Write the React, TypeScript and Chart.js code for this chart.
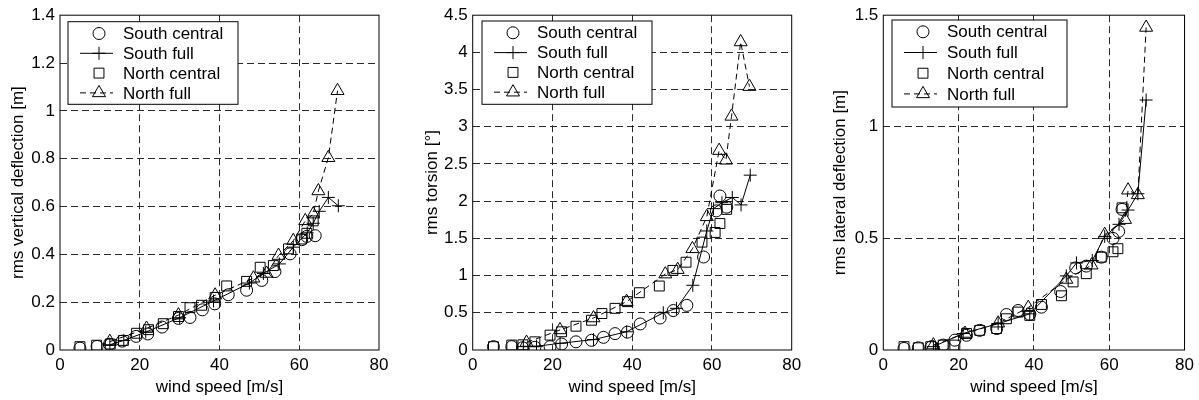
import React, { useEffect, useRef } from 'react';
import { Chart, registerables } from 'chart.js';
Chart.register(...registerables);

const FONT = '"Liberation Sans", Arial, Helvetica, sans-serif';
Chart.defaults.font.family = FONT;
Chart.defaults.font.size = 17;
Chart.defaults.color = '#000';

const seriesNames = ['South central', 'South full', 'North central', 'North full'];
const xTicksTitle = 'wind speed [m/s]';

// Panel 1: rms vertical deflection [m]
const vSouthCentralX = [5.0, 9.3, 12.4, 15.6, 19.1, 22.0, 25.6, 29.7, 32.6, 35.7, 38.8, 42.2, 46.8, 50.6, 53.9, 57.7, 60.6, 61.9, 64.0];
const vSouthCentralY = [0.008, 0.015, 0.024, 0.037, 0.057, 0.067, 0.096, 0.132, 0.136, 0.168, 0.193, 0.231, 0.25, 0.291, 0.328, 0.402, 0.461, 0.475, 0.478];
const vSouthFullX = [12.5, 16.0, 21.5, 30.0, 38.5, 47.5, 51.0, 55.0, 58.5, 62.0, 63.5, 65.0, 67.3, 69.8];
const vSouthFullY = [0.022, 0.04, 0.075, 0.135, 0.205, 0.28, 0.32, 0.36, 0.43, 0.49, 0.53, 0.58, 0.638, 0.603];
const vNorthCentralX = [5.0, 9.2, 12.6, 15.9, 19.2, 22.2, 25.9, 29.7, 32.6, 35.5, 38.9, 41.8, 46.8, 50.2, 53.5, 57.3, 60.6, 61.9, 63.5];
const vNorthCentralY = [0.014, 0.02, 0.025, 0.04, 0.07, 0.085, 0.11, 0.14, 0.177, 0.187, 0.22, 0.268, 0.287, 0.346, 0.353, 0.423, 0.464, 0.488, 0.54];
const vNorthFullX = [12.5, 21.7, 29.7, 38.9, 48.5, 51.8, 54.8, 58.5, 61.5, 63.5, 64.8, 67.3, 69.6];
const vNorthFullY = [0.035, 0.09, 0.146, 0.229, 0.3, 0.32, 0.395, 0.457, 0.54, 0.568, 0.665, 0.804, 1.084];

// Panel 2: rms torsion [°]
const tSouthCentralX = [5.2, 9.8, 12.5, 15.6, 19.4, 22.3, 25.9, 29.8, 32.8, 35.7, 38.8, 42.0, 47.0, 50.3, 53.7, 57.9, 61.1, 62.0, 63.7];
const tSouthCentralY = [0.045, 0.045, 0.03, 0.036, 0.045, 0.08, 0.11, 0.13, 0.17, 0.22, 0.24, 0.35, 0.43, 0.53, 0.6, 1.25, 1.87, 2.07, 1.92];
const tSouthFullX = [12.7, 16.0, 21.9, 30.3, 38.6, 47.8, 51.1, 55.2, 58.7, 60.4, 62.5, 65.1, 67.3, 69.6];
const tSouthFullY = [0.045, 0.05, 0.09, 0.14, 0.245, 0.5, 0.56, 0.87, 1.6, 1.9, 1.98, 2.05, 1.95, 2.35];
const tNorthCentralX = [5.2, 9.8, 12.6, 15.6, 19.4, 22.3, 25.9, 29.8, 32.4, 35.7, 38.8, 41.8, 46.8, 50.2, 53.5, 57.5, 60.8, 62.0, 63.7];
const tNorthCentralY = [0.045, 0.067, 0.07, 0.11, 0.2, 0.245, 0.32, 0.4, 0.49, 0.56, 0.65, 0.77, 0.86, 1.07, 1.18, 1.45, 1.58, 1.7, 1.89];
const tNorthFullX = [13.5, 21.9, 30.3, 38.6, 48.3, 51.4, 55.1, 58.7, 61.8, 63.5, 64.9, 67.2, 69.4];
const tNorthFullY = [0.1, 0.27, 0.43, 0.65, 1.02, 1.08, 1.36, 1.79, 2.68, 2.55, 3.14, 4.14, 3.54];

// Panel 3: rms lateral deflection [m]
const lSouthCentralX = [5.5, 9.3, 12.8, 15.9, 19.0, 22.1, 25.6, 30.1, 32.7, 35.8, 38.9, 42.0, 47.1, 51.1, 53.9, 57.9, 61.0, 62.5, 63.4];
const lSouthCentralY = [0.007, 0.01, 0.015, 0.022, 0.044, 0.066, 0.088, 0.096, 0.159, 0.177, 0.16, 0.192, 0.262, 0.368, 0.376, 0.416, 0.5, 0.531, 0.63];
const lSouthFullX = [13.3, 21.2, 30.5, 38.9, 48.6, 51.3, 55.5, 58.8, 62.6, 65.0, 67.6, 69.8];
const lSouthFullY = [0.015, 0.074, 0.118, 0.162, 0.332, 0.39, 0.401, 0.509, 0.563, 0.627, 0.7, 1.12];
const lNorthCentralX = [5.5, 9.3, 12.6, 15.9, 19.0, 22.1, 25.6, 30.1, 32.7, 35.8, 38.9, 42.0, 47.3, 50.4, 53.9, 57.9, 61.0, 62.3, 63.4];
const lNorthCentralY = [0.015, 0.01, 0.015, 0.022, 0.022, 0.074, 0.088, 0.096, 0.14, 0.17, 0.155, 0.204, 0.243, 0.305, 0.342, 0.416, 0.44, 0.454, 0.637];
const lNorthFullX = [13.3, 21.7, 30.5, 38.5, 48.6, 55.3, 58.8, 64.2, 65.0, 67.6, 69.8];
const lNorthFullY = [0.022, 0.074, 0.12, 0.19, 0.316, 0.38, 0.517, 0.584, 0.716, 0.695, 1.445];

const pts = (xs: number[], ys: number[]) => xs.map((x, i) => ({ x, y: ys[i] }));

type PanelCfg = {
  left: number; width: number; yWidth: number; padRight: number; top: number;
  yMax: number; yStep: number; yTitle: string;
  legendDx: number; legendTop: number; legendW: number; legendH: number; rowGap: number;
  series: { x: number[]; y: number[] }[];
};

const panels: PanelCfg[] = [
  {
    left: 0, width: 400, yWidth: 60, padRight: 21, top: 13.3, yMax: 1.4, yStep: 0.2,
    yTitle: 'rms vertical deflection [m]', legendDx: 8, legendTop: 21.7, legendW: 170, legendH: 82.6, rowGap: 19.8,
    series: [
      { x: vSouthCentralX, y: vSouthCentralY }, { x: vSouthFullX, y: vSouthFullY },
      { x: vNorthCentralX, y: vNorthCentralY }, { x: vNorthFullX, y: vNorthFullY },
    ],
  },
  {
    left: 414, width: 400, yWidth: 58.7, padRight: 22.3, top: 13.3, yMax: 4.5, yStep: 0.5,
    yTitle: 'rms torsion [°]', legendDx: 9.3, legendTop: 21, legendW: 170, legendH: 83.3, rowGap: 19.8,
    series: [
      { x: tSouthCentralX, y: tSouthCentralY }, { x: tSouthFullX, y: tSouthFullY },
      { x: tNorthCentralX, y: tNorthCentralY }, { x: tNorthFullX, y: tNorthFullY },
    ],
  },
  {
    left: 822, width: 377, yWidth: 61.3, padRight: 14, top: 11, yMax: 1.5, yStep: 0.5,
    yTitle: 'rms lateral deflection [m]', legendDx: 8.7, legendTop: 20, legendW: 175, legendH: 87, rowGap: 20.7,
    series: [
      { x: lSouthCentralX, y: lSouthCentralY }, { x: lSouthFullX, y: lSouthFullY },
      { x: lNorthCentralX, y: lNorthCentralY }, { x: lNorthFullX, y: lNorthFullY },
    ],
  },
];

const markerStyles = ['circle', 'cross', 'rect', 'triangle'];
const markerRadii = [6, 6.5, 7, 7.5];
const showLines = [false, true, false, true];
const lineDashes: number[][] = [[], [], [], [6, 4]];

function drawMarker(ctx: CanvasRenderingContext2D, style: string, x: number, y: number, r: number) {
  ctx.beginPath();
  if (style === 'circle') {
    ctx.arc(x, y, r, 0, Math.PI * 2);
  } else if (style === 'cross') {
    ctx.moveTo(x - r, y); ctx.lineTo(x + r, y);
    ctx.moveTo(x, y - r); ctx.lineTo(x, y + r);
  } else if (style === 'rect') {
    const s = r / Math.SQRT2;
    ctx.rect(x - s, y - s, 2 * s, 2 * s);
  } else {
    for (let k = 0; k < 3; k++) {
      const a = (k * 120 * Math.PI) / 180;
      const px = x + Math.sin(a) * r, py = y - Math.cos(a) * r;
      if (k === 0) ctx.moveTo(px, py); else ctx.lineTo(px, py);
    }
    ctx.closePath();
  }
  ctx.stroke();
}

function Panel({ cfg }: { cfg: PanelCfg }) {
  const ref = useRef<HTMLCanvasElement>(null);
  useEffect(() => {
    const gridColor = (max: number) => (c: any) => {
      const v = c.tick ? c.tick.value : NaN;
      return v <= 1e-9 || v >= max - 1e-9 ? 'rgba(0,0,0,0)' : '#2a2a2a';
    };
    const overlay = {
      id: 'frameLegend',
      afterDatasetsDraw(chart: any) {
        const ctx: CanvasRenderingContext2D = chart.ctx;
        const a = chart.chartArea;
        ctx.save();
        ctx.setLineDash([]);
        ctx.strokeStyle = '#000';
        ctx.lineWidth = 1;
        ctx.strokeRect(a.left, a.top, a.right - a.left, a.bottom - a.top);
        const bx = a.left + cfg.legendDx, by = cfg.legendTop;
        ctx.fillStyle = '#fff';
        ctx.fillRect(bx, by, cfg.legendW, cfg.legendH);
        ctx.strokeRect(bx, by, cfg.legendW, cfg.legendH);
        ctx.font = `17px ${FONT}`;
        ctx.textBaseline = 'middle';
        ctx.textAlign = 'left';
        seriesNames.forEach((name, i) => {
          const cy = by + 11.8 + i * cfg.rowGap;
          if (showLines[i]) {
            ctx.setLineDash(lineDashes[i]);
            ctx.beginPath();
            ctx.moveTo(bx + 12, cy);
            ctx.lineTo(bx + 45, cy);
            ctx.stroke();
            ctx.setLineDash([]);
          }
          drawMarker(ctx, markerStyles[i], bx + 31, cy, markerRadii[i]);
          ctx.fillStyle = '#000';
          ctx.fillText(name, bx + 55, cy + 1);
        });
        ctx.restore();
      },
    };
    const chart = new Chart(ref.current as HTMLCanvasElement, {
      type: 'scatter',
      data: {
        datasets: cfg.series.map((s, i) => ({
          label: seriesNames[i],
          data: pts(s.x, s.y),
          showLine: showLines[i],
          borderColor: '#000',
          backgroundColor: 'rgba(0,0,0,0)',
          borderWidth: 1,
          borderDash: lineDashes[i],
          pointStyle: markerStyles[i] as any,
          pointRadius: markerRadii[i],
          pointBorderColor: '#000',
          pointBackgroundColor: 'rgba(0,0,0,0)',
          pointBorderWidth: 1,
          tension: 0,
        })),
      },
      options: {
        responsive: false,
        animation: false,
        devicePixelRatio: 1,
        events: [],
        layout: { padding: { top: cfg.top, right: cfg.padRight, left: 0, bottom: 0 } },
        plugins: { legend: { display: false }, tooltip: { enabled: false } },
        scales: {
          x: {
            type: 'linear', min: 0, max: 80,
            ticks: { stepSize: 20, padding: 5, color: '#000', font: { size: 17 } },
            grid: { color: gridColor(80), drawTicks: false, lineWidth: 1 },
            border: { display: false, dash: [7, 4] },
            title: { display: true, text: xTicksTitle, color: '#000', font: { size: 17 }, padding: { top: 0, bottom: 2 } },
            afterFit: (s: any) => { s.height = 50; },
          },
          y: {
            type: 'linear', min: 0, max: cfg.yMax,
            ticks: {
              stepSize: cfg.yStep, padding: 5, color: '#000', font: { size: 17 },
              callback: (v: any) => String(+Number(v).toFixed(2)),
            },
            grid: { color: gridColor(cfg.yMax), drawTicks: false, lineWidth: 1 },
            border: { display: false, dash: [7, 4] },
            title: { display: true, text: cfg.yTitle, color: '#000', font: { size: 17 }, padding: { top: 8, bottom: 0 } },
            afterFit: (s: any) => { s.width = cfg.yWidth; },
          },
        },
      },
      plugins: [overlay],
    } as any);
    return () => chart.destroy();
  }, []);
  return (
    <canvas
      ref={ref}
      width={cfg.width}
      height={400}
      style={{ position: 'absolute', left: cfg.left, top: 0, width: cfg.width, height: 400, display: 'block' }}
    />
  );
}

export default function App() {
  return (
    <div style={{ position: 'absolute', left: 0, top: 0, width: 1199, height: 400, background: '#fff', overflow: 'hidden' }}>
      {panels.map((p, i) => (
        <Panel key={i} cfg={p} />
      ))}
    </div>
  );
}
